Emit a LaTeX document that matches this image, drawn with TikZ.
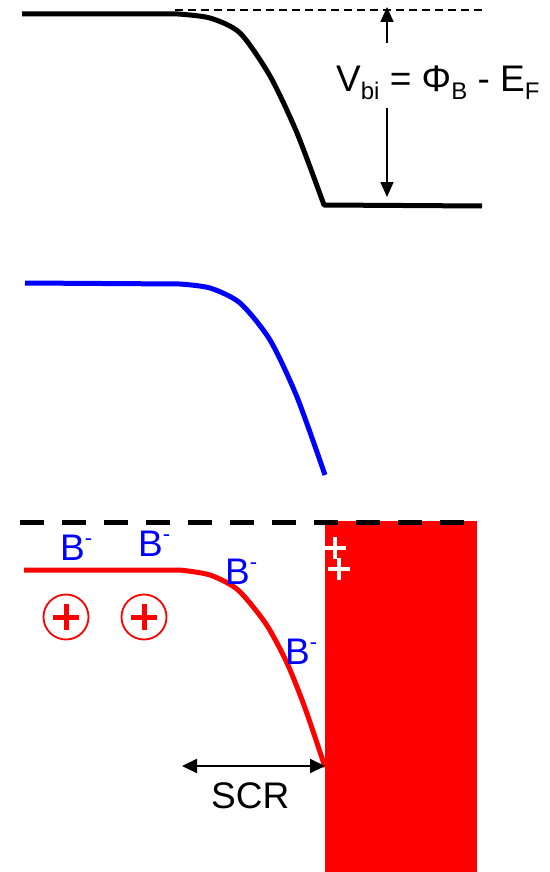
\documentclass[tikz,border=0pt]{standalone}
\usepackage{fontspec}
\setmainfont{Liberation Sans}
\usetikzlibrary{arrows.meta}
\newcommand\mysub[1]{\raisebox{-8pt}{\fontsize{24}{24}\selectfont #1}}
\newcommand\mysup[1]{\raisebox{15pt}{\fontsize{22}{22}\selectfont #1}}
\begin{document}
\begin{tikzpicture}[x=1pt,y=-1pt,
  lbl/.style={inner sep=0pt,anchor=base west,font=\fontsize{37}{37}\selectfont},
  bminus/.style={lbl,text=blue},
  band/.style={line width=5pt,line join=round},
  harrow/.style={line width=1.7pt,-{Triangle[length=15pt,width=13pt]}},
  scrarrow/.style={line width=2pt,{Triangle[length=15pt,width=14pt]}-{Triangle[length=15pt,width=14pt]}},
  cplus/.style={circle,draw=red,line width=1.8pt,minimum size=45pt,inner sep=0pt},
  rplus/.style={red,line width=5pt},
  wplus/.style={white,line width=4pt}]
\useasboundingbox (0,0) rectangle (549,872);
% metal (red rectangle)
\fill[red] (325,521) rectangle (477,872);
% top dashed level
\draw[line width=1.5pt,dash pattern=on 8pt off 5pt] (175,10) -- (482,10);
% bottom dashed level
\draw[line width=5pt,dash pattern=on 24pt off 18pt] (20,522) -- (467,522);
% black band
\draw[band,black] (22,14) -- (178,14) plot[smooth,tension=0.45] coordinates {(178,14) (210,18) (240,33) (270,76) (297,133) (324,205)} -- (482,206);
% blue band
\draw[band,blue] (25,283) -- (180,284) plot[smooth,tension=0.45] coordinates {(180,284) (210,288) (240,303) (270,340) (297,397) (325,475)};
% red band
\draw[band,red] (24,570) -- (180,570) plot[smooth,tension=0.45] coordinates {(180,570) (210,575) (238,590) (266,624) (287,663) (305,708) (325,767)};
% Vbi label and arrows
\node[lbl] (vbi) at (336,92) {V\mysub{bi} = Φ\mysub{B} - E\mysub{F}};
\coordinate (t0) at (387,43);
\coordinate (t1) at (387,7);
\coordinate (b0) at (387,108);
\coordinate (b1) at (387,197);
\draw[harrow] (t0) -- (t1);
\draw[harrow] (b0) -- (b1);
% B- labels
\node[bminus] (bm1) at (60,560) {B\mysup{-}};
\node[bminus] (bm2) at (138,556) {B\mysup{-}};
\node[bminus] (bm3) at (225,584) {B\mysup{-}};
\node[bminus] (bm4) at (285,664) {B\mysup{-}};
% circled pluses
\node[cplus] (p1) at (66,617) {};
\node[cplus] (p2) at (144,617) {};
\foreach \p in {p1,p2}{
  \draw[rplus] ([xshift=-13pt]\p.center) -- ([xshift=13pt]\p.center);
  \draw[rplus] ([yshift=-13pt]\p.center) -- ([yshift=13pt]\p.center);
}
% white pluses
\coordinate (w1) at (335,548);
\coordinate (w2) at (339,569);
\foreach \p in {w1,w2}{
  \draw[wplus] ([xshift=-11pt]\p) -- ([xshift=11pt]\p);
  \draw[wplus] ([yshift=-11pt]\p) -- ([yshift=11pt]\p);
}
% SCR
\coordinate (s0) at (182,766);
\coordinate (s1) at (325,766);
\draw[scrarrow] (s0) -- (s1);
\node[lbl] (scr) at (211,808) {SCR};
\end{tikzpicture}
\end{document}
